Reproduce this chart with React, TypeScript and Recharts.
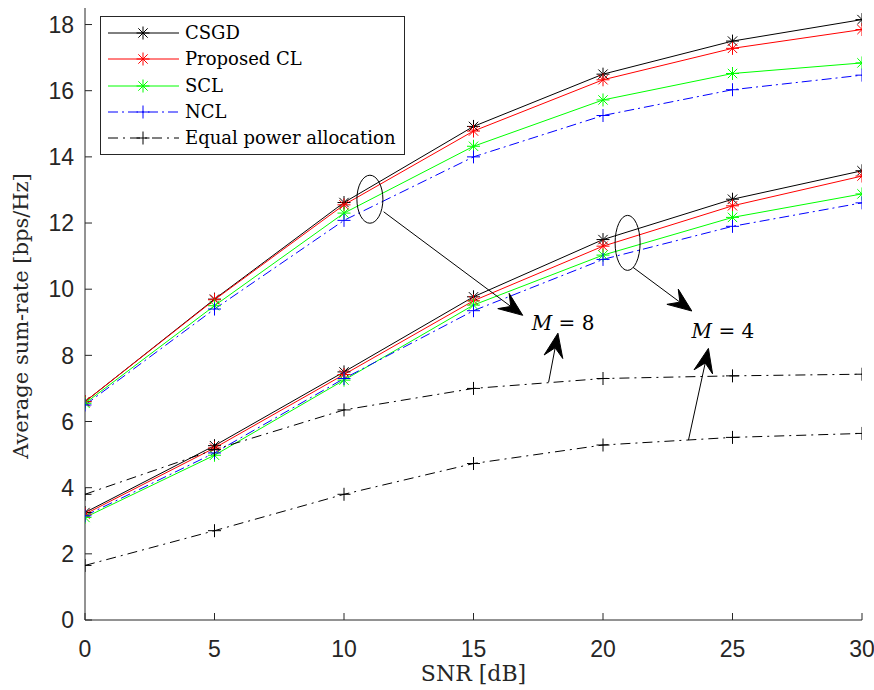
import { LineChart, Line, XAxis, YAxis, ReferenceLine, ReferenceDot } from "recharts";

if (typeof document !== "undefined") document.body.style.margin = "0";

// SNR [dB] grid of the simulation.
const SNR = [0, 5, 10, 15, 20, 25, 30];

// M = 8 antennas.
const CSGD_M8 = [6.6, 9.7, 12.62, 14.92, 16.5, 17.5, 18.15];
const CL_M8 = [6.6, 9.68, 12.55, 14.78, 16.33, 17.28, 17.85];
const SCL_M8 = [6.55, 9.5, 12.3, 14.32, 15.72, 16.52, 16.84];
const NCL_M8 = [6.5, 9.4, 12.08, 14.0, 15.25, 16.03, 16.47];
const EPA_M8 = [3.8, 5.15, 6.35, 7.0, 7.3, 7.38, 7.43];

// M = 4 antennas.
const CSGD_M4 = [3.25, 5.27, 7.5, 9.77, 11.5, 12.72, 13.58];
const CL_M4 = [3.2, 5.2, 7.42, 9.65, 11.3, 12.52, 13.42];
const SCL_M4 = [3.1, 4.98, 7.25, 9.52, 11.03, 12.17, 12.88];
const NCL_M4 = [3.15, 5.05, 7.3, 9.35, 10.9, 11.9, 12.61];
const EPA_M4 = [1.65, 2.7, 3.8, 4.73, 5.29, 5.52, 5.64];

const X_TICKS = [0, 5, 10, 15, 20, 25, 30];
const Y_TICKS = [0, 2, 4, 6, 8, 10, 12, 14, 16, 18];

const data = SNR.map((snr, i) => ({
  snr,
  csgd8: CSGD_M8[i],
  cl8: CL_M8[i],
  scl8: SCL_M8[i],
  ncl8: NCL_M8[i],
  epa8: EPA_M8[i],
  csgd4: CSGD_M4[i],
  cl4: CL_M4[i],
  scl4: SCL_M4[i],
  ncl4: NCL_M4[i],
  epa4: EPA_M4[i],
}));

type Marker = "star" | "plus";

interface SeriesDef {
  name: string;
  keys: string[];
  color: string;
  dash?: string;
  marker: Marker;
}

const SERIES: SeriesDef[] = [
  { name: "CSGD", keys: ["csgd8", "csgd4"], color: "#000000", marker: "star" },
  { name: "Proposed CL", keys: ["cl8", "cl4"], color: "#ff0000", marker: "star" },
  { name: "SCL", keys: ["scl8", "scl4"], color: "#00ff00", marker: "star" },
  { name: "NCL", keys: ["ncl8", "ncl4"], color: "#0000ff", dash: "10 4 2 4", marker: "plus" },
  { name: "Equal power allocation", keys: ["epa8", "epa4"], color: "#000000", dash: "10 5 2 5", marker: "plus" },
];

const AXIS = "#262626";
const SERIF = "'DejaVu Serif', serif";
const SANS = "'Liberation Sans', Arial, sans-serif";

function MarkerGlyph({ cx, cy, color, marker }: { cx: number; cy: number; color: string; marker: Marker }) {
  if (marker === "plus") {
    const r = 6.5;
    return (
      <g stroke={color} strokeWidth={1}>
        <line x1={cx - r} y1={cy} x2={cx + r} y2={cy} />
        <line x1={cx} y1={cy - r} x2={cx} y2={cy + r} />
      </g>
    );
  }
  const r = 6.5;
  const d = r * 0.72;
  return (
    <g stroke={color} strokeWidth={1}>
      <line x1={cx - r} y1={cy} x2={cx + r} y2={cy} />
      <line x1={cx} y1={cy - r} x2={cx} y2={cy + r} />
      <line x1={cx - d} y1={cy - d} x2={cx + d} y2={cy + d} />
      <line x1={cx - d} y1={cy + d} x2={cx + d} y2={cy - d} />
    </g>
  );
}

const makeDot = (color: string, marker: Marker) => (props: any) => {
  const { cx, cy, index, dataKey } = props;
  if (cx == null || cy == null) return <g key={`${dataKey}-${index}`} />;
  return (
    <g key={`${dataKey}-${index}`}>
      <MarkerGlyph cx={cx} cy={cy} color={color} marker={marker} />
    </g>
  );
};

// Thin line with a MATLAB-like filled arrow head at the end point.
const ArrowShape = (props: any) => {
  const { x1, y1, x2, y2 } = props;
  const dx = x2 - x1;
  const dy = y2 - y1;
  const len = Math.hypot(dx, dy) || 1;
  const ux = dx / len;
  const uy = dy / len;
  const nx = -uy;
  const ny = ux;
  const L = 24;
  const W = 19;
  const bx = x2 - L * ux;
  const by = y2 - L * uy;
  const kx = x2 - 0.62 * L * ux;
  const ky = y2 - 0.62 * L * uy;
  const pts = [
    [x2, y2],
    [bx + (W / 2) * nx, by + (W / 2) * ny],
    [kx, ky],
    [bx - (W / 2) * nx, by - (W / 2) * ny],
  ]
    .map((p) => p.join(","))
    .join(" ");
  return (
    <g>
      <line x1={x1} y1={y1} x2={kx} y2={ky} stroke="#000" strokeWidth={1} />
      <polygon points={pts} fill="#000" stroke="#000" strokeWidth={1} />
    </g>
  );
};

const ellipseShape = (rx: number, ry: number) => (props: any) => (
  <ellipse cx={props.cx} cy={props.cy} rx={rx} ry={ry} fill="none" stroke="#000" strokeWidth={1} />
);

const labelShape = (value: string) => (props: any) => (
  <text x={props.cx} y={props.cy} textAnchor="middle" fontFamily={SERIF} fontSize={20} fill="#000">
    <tspan fontStyle="italic">M</tspan>
    <tspan> = {value}</tspan>
  </text>
);

function LegendBox() {
  return (
    <div
      style={{
        position: "absolute",
        left: 100,
        top: 16,
        width: 305,
        height: 139,
        border: `1px solid ${AXIS}`,
        background: "#fff",
        boxSizing: "border-box",
      }}
    >
      {SERIES.map((s, i) => (
        <div
          key={s.name}
          style={{ position: "absolute", left: 0, top: 3 + i * 26.3, height: 26, width: "100%" }}
        >
          <svg width={82} height={26} style={{ position: "absolute", left: 0, top: 0 }}>
            <line x1={7} y1={13} x2={78} y2={13} stroke={s.color} strokeWidth={1} strokeDasharray={s.dash} />
            <MarkerGlyph cx={42} cy={13} color={s.color} marker={s.marker} />
          </svg>
          <span
            style={{
              position: "absolute",
              left: 84,
              top: 1,
              fontFamily: SERIF,
              fontSize: 18,
              lineHeight: "24px",
              color: "#000",
              whiteSpace: "nowrap",
            }}
          >
            {s.name}
          </span>
        </div>
      ))}
    </div>
  );
}

// Rotated y-axis title, drawn over the chart at a fixed page position.
function YTitle() {
  return (
    <svg
      width={874}
      height={690}
      style={{ position: "absolute", left: 0, top: 0, pointerEvents: "none" }}
    >
      <g transform="translate(28 316) rotate(-90)">
        <text x={0} y={0} textAnchor="middle" fontFamily={SERIF} fontSize={21} fill={AXIS}>
          Average sum-rate [bps/Hz]
        </text>
      </g>
    </svg>
  );
}

export default function App() {
  const tickStyle = { fontFamily: SANS, fontSize: 23, fill: AXIS };
  return (
    <div style={{ position: "relative", width: 874, height: 690, background: "#fff" }}>
      <LineChart width={874} height={690} data={data} margin={{ top: 8, right: 12, bottom: 0, left: 0 }}>
        <XAxis
          dataKey="snr"
          type="number"
          domain={[0, 30]}
          ticks={X_TICKS}
          allowDataOverflow
          height={70}
          stroke={AXIS}
          tickSize={-7}
          tickMargin={28}
          tick={tickStyle}
          label={(p: any) => {
            const vb = p.viewBox;
            return (
              <text x={vb.x + vb.width / 2} y={681} textAnchor="middle" fontFamily={SERIF} fontSize={22} fill={AXIS}>
                SNR [dB]
              </text>
            );
          }}
        />
        <XAxis
          xAxisId="top"
          orientation="top"
          dataKey="snr"
          type="number"
          domain={[0, 30]}
          ticks={X_TICKS}
          height={0}
          stroke={AXIS}
          tickSize={-7}
          tick={false}
        />
        <YAxis
          type="number"
          domain={[0, 18.5]}
          ticks={Y_TICKS}
          allowDataOverflow
          width={85}
          stroke={AXIS}
          tickSize={-7}
          tickMargin={18}
          tick={tickStyle}
        />
        <YAxis
          yAxisId="right"
          orientation="right"
          type="number"
          domain={[0, 18.5]}
          ticks={Y_TICKS}
          width={0}
          stroke={AXIS}
          tickSize={-7}
          tick={false}
        />

        {SERIES.flatMap((s) =>
          s.keys.map((k) => (
            <Line
              key={k}
              dataKey={k}
              type="linear"
              stroke={s.color}
              strokeWidth={1}
              strokeDasharray={s.dash}
              dot={makeDot(s.color, s.marker)}
              activeDot={false}
              isAnimationActive={false}
            />
          ))
        )}

        <ReferenceDot x={11.0} y={12.72} r={1} ifOverflow="visible" shape={ellipseShape(13, 24)} />
        <ReferenceDot x={20.95} y={11.4} r={1} ifOverflow="visible" shape={ellipseShape(12.5, 27.5)} />
        <ReferenceLine
          segment={[{ x: 11.53, y: 12.34 }, { x: 16.9, y: 9.21 }]}
          ifOverflow="visible"
          shape={ArrowShape}
        />
        <ReferenceLine
          segment={[{ x: 17.9, y: 7.19 }, { x: 18.26, y: 8.67 }]}
          ifOverflow="visible"
          shape={ArrowShape}
        />
        <ReferenceLine
          segment={[{ x: 21.16, y: 10.66 }, { x: 23.43, y: 9.34 }]}
          ifOverflow="visible"
          shape={ArrowShape}
        />
        <ReferenceLine
          segment={[{ x: 23.3, y: 5.44 }, { x: 24.07, y: 8.21 }]}
          ifOverflow="visible"
          shape={ArrowShape}
        />
        <ReferenceDot x={18.46} y={8.76} r={1} ifOverflow="visible" shape={labelShape("8")} />
        <ReferenceDot x={24.63} y={8.52} r={1} ifOverflow="visible" shape={labelShape("4")} />
      </LineChart>
      <LegendBox />
      <YTitle />
    </div>
  );
}
